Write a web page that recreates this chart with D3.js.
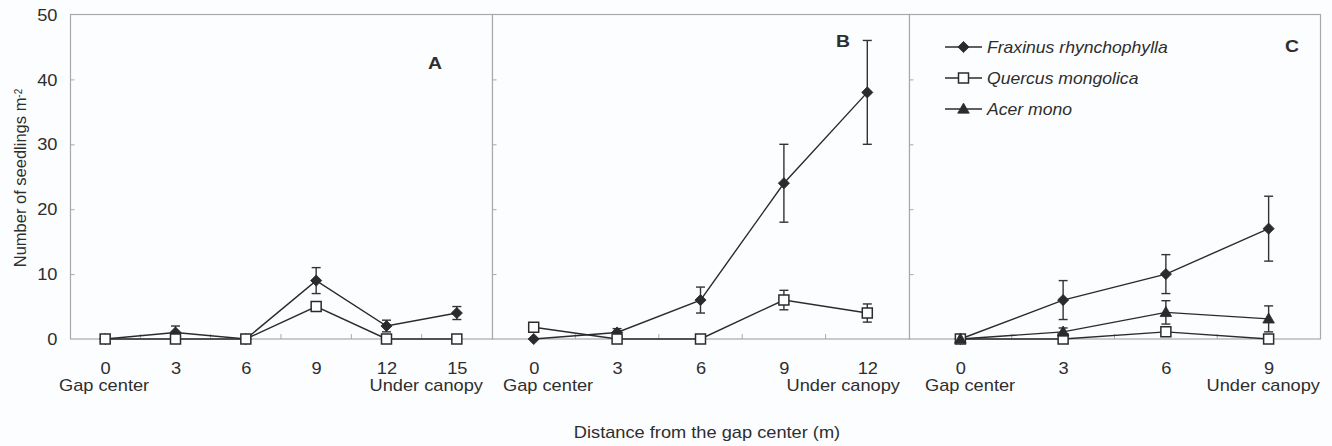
<!DOCTYPE html>
<html>
<head>
<meta charset="utf-8">
<script src="https://cdn.jsdelivr.net/npm/d3@7"></script>
<style>
  html, body { margin: 0; padding: 0; background: #fcfdfe; }
  svg { display: block; }
  text { font-family: "Liberation Sans", Arial, sans-serif; fill: #2e2e2e; }
</style>
</head>
<body>
<svg id="chart" width="1332" height="446"></svg>
<script>
// ---------------- DATA ----------------
const seriesNames = ["Fraxinus rhynchophylla", "Quercus mongolica", "Acer mono"];
const yTicks = [0, 10, 20, 30, 40, 50];

const distA = [0, 3, 6, 9, 12, 15];
const fraxA = [0, 1, 0, 9, 2, 4];
const fraxA_se = [0, 1, 0, 2, 0.9, 1];
const quercA = [0, 0, 0, 5, 0, 0];
const quercA_se = [0, 0, 0, 0.6, 0, 0];

const distB = [0, 3, 6, 9, 12];
const fraxB = [0, 1, 6, 24, 38];
const fraxB_se = [0, 0.6, 2, 6, 8];
const quercB = [1.8, 0, 0, 6, 4];
const quercB_se = [0.6, 0, 0, 1.5, 1.4];

const distC = [0, 3, 6, 9];
const fraxC = [0, 6, 10, 17];
const fraxC_se = [0, 3, 3, 5];
const quercC = [0, 0, 1.1, 0];
const quercC_se = [0, 0, 0.3, 0];
const acerC = [0, 1.1, 4.1, 3.1];
const acerC_se = [0, 0.6, 1.8, 2];

const panelLetters = ["A", "B", "C"];
const leftLabel = "Gap center";
const rightLabel = "Under canopy";
const xTitle = "Distance from the gap center (m)";
const yTitle = "Number of seedlings m";
const yTitleSup = "-2";

// ---------------- LAYOUT ----------------
const svg = d3.select("#chart");
const SX = 1.14;            // horizontal stretch of text as in the reference
const yTop = 14.5, yBot = 339;
const y = d3.scaleLinear().domain([0, 50]).range([yBot, yTop]);
const frameColor = "#a9a9a9";
const ink = "#2b2b2b";

const panels = [
  { letter: panelLetters[0], dist: distA, x0: 70, x1: 492, letterXY: [435, 69], gapX: 59, canopyX: 483,
    series: [ {k:0, v: fraxA, se: fraxA_se}, {k:1, v: quercA, se: quercA_se} ] },
  { letter: panelLetters[1], dist: distB, x0: 492, x1: 909, letterXY: [843, 47], gapX: 503, canopyX: 900,
    series: [ {k:0, v: fraxB, se: fraxB_se}, {k:1, v: quercB, se: quercB_se} ] },
  { letter: panelLetters[2], dist: distC, x0: 909, x1: 1320, letterXY: [1292, 52], gapX: 925, canopyX: 1320,
    series: [ {k:0, v: fraxC, se: fraxC_se}, {k:1, v: quercC, se: quercC_se}, {k:2, v: acerC, se: acerC_se} ] }
];

function stext(g, x, yy, txt, anchor, size, opts = {}) {
  const t = g.append("text")
    .attr("transform", `translate(${x},${yy}) scale(${opts.sx || SX},1)`)
    .attr("text-anchor", anchor)
    .style("font-size", size + "px")
    .text(txt);
  if (opts.weight) t.style("font-weight", opts.weight);
  if (opts.italic) t.style("font-style", "italic");
  return t;
}

function drawMarker(g, k, cx, cy) {
  if (k === 0) {
    g.append("path").attr("d", d3.symbol().type(d3.symbolSquare).size(62)())
      .attr("transform", `translate(${cx},${cy}) rotate(45)`)
      .attr("fill", ink).attr("stroke", ink).attr("stroke-width", 0.8);
  } else if (k === 1) {
    g.append("path").attr("d", d3.symbol().type(d3.symbolSquare).size(100)())
      .attr("transform", `translate(${cx},${cy})`)
      .attr("fill", "#ffffff").attr("stroke", ink).attr("stroke-width", 1.5);
  } else {
    g.append("path").attr("d", d3.symbol().type(d3.symbolTriangle).size(58)())
      .attr("transform", `translate(${cx},${cy + 0.8})`)
      .attr("fill", ink).attr("stroke", ink).attr("stroke-width", 0.8);
  }
}

panels.forEach((p, pi) => {
  const g = svg.append("g");
  const x = d3.scalePoint().domain(p.dist).range([p.x0, p.x1]).padding(0.5);
  const step = x.step();

  // frame
  g.append("rect").attr("x", p.x0 + 0.5).attr("y", yTop).attr("width", p.x1 - p.x0).attr("height", yBot - yTop)
    .attr("fill", "#fcfdfe").attr("stroke", frameColor).attr("stroke-width", 1.2);

  // left axis (inward ticks)
  const yAxis = d3.axisLeft(y).tickValues(yTicks).tickSizeInner(-4).tickSizeOuter(0).tickPadding(13)
    .tickFormat(pi === 0 ? d3.format("d") : () => "");
  const ya = g.append("g").attr("transform", `translate(${p.x0 + 0.5},0)`).call(yAxis);
  ya.select(".domain").remove();
  ya.selectAll(".tick line").attr("stroke", frameColor).filter(d => d === 0 || d === 50).remove();
  ya.selectAll(".tick text").each(function() {
    const t = d3.select(this);
    t.attr("x", null).attr("dy", null)
      .attr("transform", `translate(-13,5.6) scale(${SX},1)`)
      .style("font-size", "16px").style("font-family", "Liberation Sans, Arial, sans-serif").attr("fill", "#2e2e2e");
  });

  // bottom axis labels
  const xAxis = d3.axisBottom(x).tickSize(0).tickPadding(0).tickFormat(d3.format("d"));
  const xa = g.append("g").attr("transform", `translate(0,${yBot})`).call(xAxis);
  xa.select(".domain").remove();
  xa.selectAll(".tick text").each(function() {
    d3.select(this).attr("y", null).attr("dy", null)
      .attr("transform", `translate(0,34.5) scale(${SX},1)`)
      .style("font-size", "16px").style("font-family", "Liberation Sans, Arial, sans-serif").attr("fill", "#2e2e2e");
  });
  // bin boundary ticks (upward)
  const bounds = d3.range(1, p.dist.length).map(i => p.x0 + step * i);
  g.selectAll(".bt").data(bounds).join("line")
    .attr("x1", d => d).attr("x2", d => d).attr("y1", yBot).attr("y2", yBot - 5)
    .attr("stroke", frameColor).attr("stroke-width", 1);

  stext(g, p.gapX, 391, leftLabel, "start", 16);
  stext(g, p.canopyX, 391, rightLabel, "end", 16);

  // panel letter
  stext(g, p.letterXY[0], p.letterXY[1], p.letter, "middle", 17, { weight: "bold" });

  // series: lines
  const line = d3.line().x((d, i) => x(p.dist[i])).y(d => y(d));
  p.series.forEach(s => {
    g.append("path").attr("d", line(s.v)).attr("fill", "none").attr("stroke", ink).attr("stroke-width", 1.4);
  });
  // error bars + markers per series
  p.series.forEach(s => {
    s.v.forEach((v, i) => {
      const se = s.se[i];
      if (se > 0) {
        const cx = x(p.dist[i]);
        const lo = Math.max(0, v - se), hi = v + se;
        g.append("line").attr("x1", cx).attr("x2", cx).attr("y1", y(lo)).attr("y2", y(hi))
          .attr("stroke", "#333").attr("stroke-width", 1.4);
        [lo, hi].forEach(e => {
          if (e > 0) g.append("line").attr("x1", cx - 4.5).attr("x2", cx + 4.5).attr("y1", y(e)).attr("y2", y(e))
            .attr("stroke", "#333").attr("stroke-width", 1.4);
        });
      }
    });
    s.v.forEach((v, i) => drawMarker(g, s.k, x(p.dist[i]), y(v)));
  });
});

// legend
const lg = svg.append("g");
const legendRows = [47, 78, 109];
seriesNames.forEach((name, i) => {
  const ly = legendRows[i];
  lg.append("line").attr("x1", 945).attr("x2", 982).attr("y1", ly).attr("y2", ly)
    .attr("stroke", ink).attr("stroke-width", 1.4);
  drawMarker(lg, i, 963.5, ly);
  stext(lg, 987, ly + 5.8, name, "start", 16, { italic: true, sx: 1.1 });
});

// y title
const yt = svg.append("text")
  .attr("transform", "translate(26,178) rotate(-90)")
  .attr("text-anchor", "middle")
  .style("font-size", "16.5px");
yt.append("tspan").text(yTitle);
yt.append("tspan").attr("dy", "-0.45em").style("font-size", "10px").text(yTitleSup);

// x title
stext(svg, 707, 438, xTitle, "middle", 16);
</script>
</body>
</html>
